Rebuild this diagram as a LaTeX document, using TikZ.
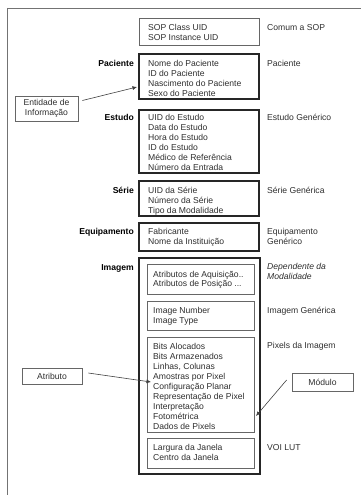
\documentclass[tikz,border=0pt]{standalone}
\usepackage{fontspec}
\setmainfont{Liberation Sans}
\usetikzlibrary{arrows.meta}
\tikzset{
  x=1pt, y=-1pt,
  every node/.style={font=\fontsize{8.6}{10}\selectfont, text=black!82},
  thinbox/.style={draw=black!60, line width=0.8pt},
  heavybox/.style={draw=black!85, line width=1.6pt},
  linesblock/.style={anchor=north west, inner sep=0pt, align=left,
    execute at begin node={\rule{0pt}{6.5pt}}},
  entity/.style={anchor=north east, inner sep=0pt, font=\fontsize{8.6}{10}\selectfont\bfseries, text=black,
    execute at begin node={\rule{0pt}{6.5pt}}},
  callout/.style={draw=black!60, line width=0.8pt, inner sep=0pt, align=center},
  pointer/.style={draw=black!75, line width=0.6pt, -{Latex[length=4.5pt,width=4pt]}}
}
\begin{document}
\begin{tikzpicture}
\useasboundingbox (0,0) rectangle (361,495);

% page frame (top and left edges)
\draw[black!55, line width=0.7pt] (361,8) -- (7.5,8);
\draw[black!55, line width=1.8pt] (7.5,8) -- (7.5,495);

% module boxes
\draw[thinbox]  (139,18)  rectangle (259,45);
\draw[heavybox] (139,54)  rectangle (259,99);
\draw[heavybox] (139,110) rectangle (259,173);
\draw[heavybox] (139,181) rectangle (259,216);
\draw[heavybox] (139,223) rectangle (259,251);
\draw[heavybox] (139,258) rectangle (260,474);
\draw[thinbox]  (147,264) rectangle (254,294);
\draw[thinbox]  (147,301) rectangle (254,330);
\draw[thinbox]  (147,337) rectangle (254,432);
\draw[thinbox]  (147,438) rectangle (254,468);

% attribute lists
\node[linesblock] (sop) at (148,23.6) {SOP Class UID\\SOP Instance UID};
\node[linesblock] (pac) at (148,59.6) {Nome do Paciente\\ID do Paciente\\Nascimento do Paciente\\Sexo do Paciente};
\node[linesblock] (est) at (148,113.6) {UID do Estudo\\Data do Estudo\\Hora do Estudo\\ID do Estudo\\Médico de Referência\\Número da Entrada};
\node[linesblock] (ser) at (148,186.6) {UID da Série\\Número da Série\\Tipo da Modalidade};
\node[linesblock] (eqp) at (148,227.6) {Fabricante\\Nome da Instituição};
\node[linesblock] (mod) at (153,270.6) {Atributos de Aquisição..\\[-1pt]Atributos de Posição ...};
\node[linesblock] (gen) at (153,306.6) {Image Number\\Image Type};
\node[linesblock] (pix) at (153,342.6) {Bits Alocados\\Bits Armazenados\\Linhas, Colunas\\Amostras por Pixel\\Configuração Planar\\Representação de Pixel\\Interpretação\\Fotométrica\\Dados de Pixels};
\node[linesblock] (voi) at (153,443.6) {Largura da Janela\\Centro da Janela};

% information entity names
\node[entity] (ePac) at (134,59.6) {Paciente};
\node[entity] (eEst) at (134,113.6) {Estudo};
\node[entity] (eSer) at (134,186.6) {Série};
\node[entity] (eEqp) at (134,227.6) {Equipamento};
\node[entity] (eImg) at (134,263.6) {Imagem};

% module names
\node[linesblock] (mSop) at (267,23.6) {Comum a SOP};
\node[linesblock] (mPac) at (267,59.6) {Paciente};
\node[linesblock] (mEst) at (267,113.6) {Estudo Genérico};
\node[linesblock] (mSer) at (267,186.6) {Série Genérica};
\node[linesblock] (mEqp) at (267,227.6) {Equipamento\\Genérico};
\node[linesblock, font=\fontsize{8.6}{10}\selectfont\itshape] (mMod) at (267,262.6) {Dependente da\\Modalidade};
\node[linesblock] (mGen) at (267,306.6) {Imagem Genérica};
\node[linesblock] (mPix) at (267,341.6) {Pixels da Imagem};
\node[linesblock] (mVoi) at (267,443.6) {VOI LUT};

% callouts
\node[callout, minimum width=63, minimum height=25] (ent) at (46.5,108.5) {Entidade de\\Informação};
\node[callout, minimum width=60, minimum height=16] (atr) at (52,376) {Atributo};
\node[callout, minimum width=61, minimum height=18] (mdl) at (322.5,382) {Módulo};

\coordinate (entTip) at (137,87);
\coordinate (atrTip) at (151,382);
\coordinate (mdlTip) at (256,416);

\draw[pointer] ([xshift=4pt,yshift=8pt]ent.east) -- (entTip);
\draw[pointer] ([xshift=6pt,yshift=3pt]atr.east) -- (atrTip);
\draw[pointer] ([xshift=-5pt,yshift=2pt]mdl.west) -- (mdlTip);
\end{tikzpicture}
\end{document}
